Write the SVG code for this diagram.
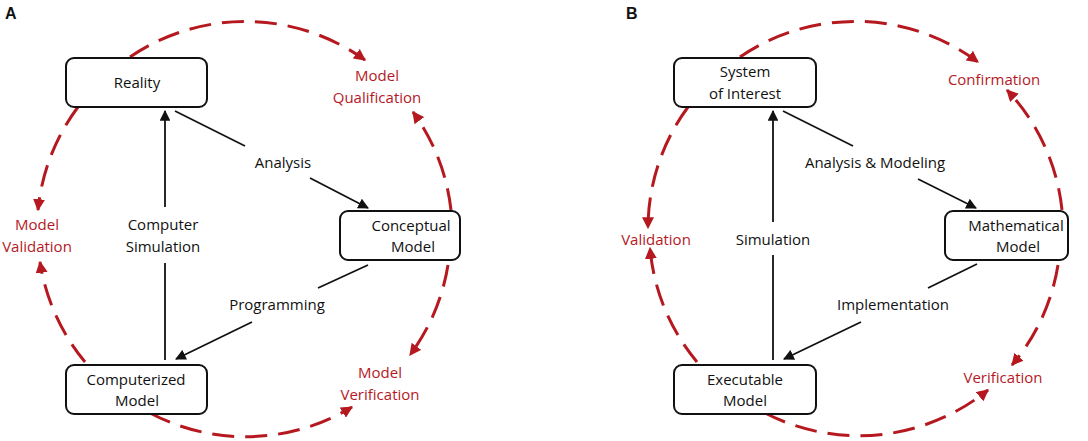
<svg xmlns="http://www.w3.org/2000/svg" width="1088" height="441" viewBox="0 0 1088 441">
<defs>
<marker id="ar" viewBox="0 0 10 10" refX="9" refY="5" markerWidth="4" markerHeight="4" orient="auto"><path d="M0,0 L10,5 L0,10 z" fill="#b5191f"/></marker>
<marker id="ab" viewBox="0 0 10 10" refX="9" refY="5" markerWidth="6" markerHeight="6" orient="auto"><path d="M0,0 L10,5 L0,10 z" fill="#111"/></marker>
<style>
.box{fill:#fff;stroke:#111;stroke-width:2}
.t{font-family:"Open Sans","Liberation Sans",sans-serif;font-size:15px;fill:#111;text-anchor:middle}
.r{font-family:"Open Sans","Liberation Sans",sans-serif;font-size:15px;fill:#b5191f;text-anchor:middle}
.h{font-family:"Liberation Sans",Arial,sans-serif;font-size:16px;font-weight:bold;fill:#111}
.d{fill:none;stroke:#b5191f;stroke-width:3;stroke-dasharray:22 11;marker-end:url(#ar)}
.c{fill:none;stroke:#111;stroke-width:1.8}
.ca{fill:none;stroke:#111;stroke-width:1.8;marker-end:url(#ab)}
</style>
</defs>
<rect width="1088" height="441" fill="#fff"/>
<text class="h" x="5" y="19">A</text>
<text class="h" x="626" y="19">B</text>
<g id="connectors">
<path class="d" d="M130,57 A205,205 0 0 1 365,60"/>
<path class="d" d="M451,210 A205,205 0 0 0 413,112"/>
<path class="d" d="M448,265 A205,205 0 0 1 410,355"/>
<path class="d" d="M150,413 A205,205 0 0 0 352,407"/>
<path class="d" d="M78,107 A205,205 0 0 0 38,210"/>
<path class="d" d="M85,362 A205,205 0 0 1 40,262"/>
<path class="d" d="M740,57 A205,205 0 0 1 978,62"/>
<path class="d" d="M1062,210 A205,205 0 0 0 1007,90"/>
<path class="d" d="M1058,265 A205,205 0 0 1 1012,365"/>
<path class="d" d="M765,413 A205,205 0 0 0 988,390"/>
<path class="d" d="M688,107 A205,205 0 0 0 648,228"/>
<path class="d" d="M697,362 A205,205 0 0 1 650,248"/>
<line class="c" x1="165" y1="360" x2="165" y2="263"/>
<line class="ca" x1="165" y1="207" x2="165" y2="111"/>
<line class="c" x1="175" y1="111" x2="245" y2="146"/>
<line class="ca" x1="310" y1="178" x2="368" y2="208"/>
<line class="c" x1="368" y1="265" x2="318" y2="288"/>
<line class="ca" x1="252" y1="322" x2="176" y2="359"/>
<line class="c" x1="773" y1="360" x2="773" y2="255"/>
<line class="ca" x1="773" y1="222" x2="773" y2="111"/>
<line class="c" x1="783" y1="111" x2="853" y2="146"/>
<line class="ca" x1="918" y1="179" x2="976" y2="208"/>
<line class="c" x1="977" y1="264" x2="928" y2="288"/>
<line class="ca" x1="861" y1="322" x2="784" y2="359"/>
</g>
<g id="reality"><rect class="box" x="66" y="58" width="141" height="49" rx="8"/><text class="t" x="137" y="88">Reality</text></g>
<g id="conceptual"><rect class="box" x="340" y="211" width="120" height="49" rx="8"/><text class="t" x="411" y="231">Conceptual</text><text class="t" x="413" y="252">Model</text></g>
<g id="computerized"><rect class="box" x="66" y="365" width="141" height="49" rx="8"/><text class="t" x="136" y="385">Computerized</text><text class="t" x="137" y="406">Model</text></g>
<g id="system"><rect class="box" x="674" y="58" width="142" height="49" rx="8"/><text class="t" x="745" y="77">System</text><text class="t" x="745" y="99">of Interest</text></g>
<g id="mathematical"><rect class="box" x="945" y="211" width="123" height="49" rx="8"/><text class="t" x="1016" y="231">Mathematical</text><text class="t" x="1018" y="252">Model</text></g>
<g id="executable"><rect class="box" x="674" y="365" width="142" height="49" rx="8"/><text class="t" x="745" y="385">Executable</text><text class="t" x="745" y="406">Model</text></g>
<g id="labels">
<text class="t" x="283" y="168">Analysis</text>
<text class="t" x="163" y="230">Computer</text><text class="t" x="163" y="252">Simulation</text>
<text class="t" x="277" y="310">Programming</text>
<text class="t" x="875" y="168">Analysis &amp; Modeling</text>
<text class="t" x="773" y="245">Simulation</text>
<text class="t" x="893" y="310">Implementation</text>
<text class="r" x="377" y="81">Model</text><text class="r" x="377" y="103">Qualification</text>
<text class="r" x="37" y="230">Model</text><text class="r" x="37" y="252">Validation</text>
<text class="r" x="380" y="378">Model</text><text class="r" x="380" y="400">Verification</text>
<text class="r" x="994" y="85">Confirmation</text>
<text class="r" x="656" y="245">Validation</text>
<text class="r" x="1003" y="383">Verification</text>
</g>
</svg>
